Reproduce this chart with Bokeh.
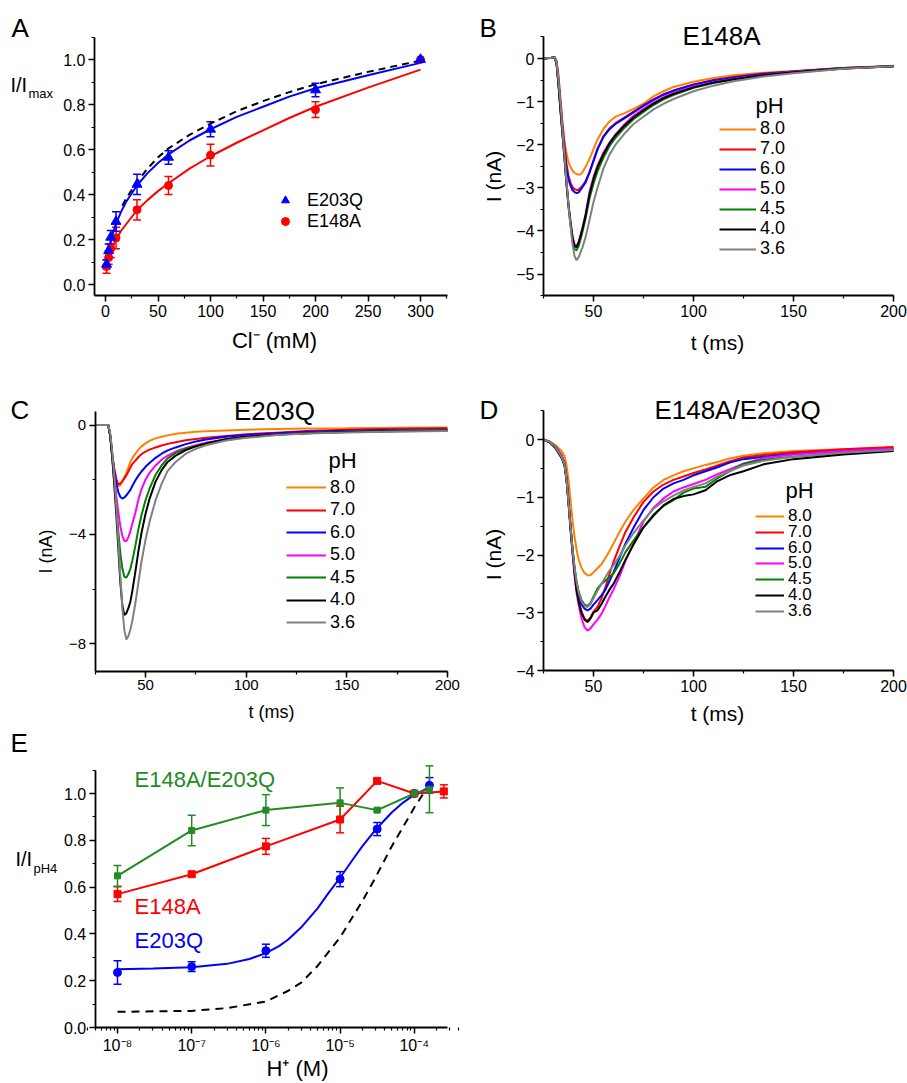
import math
from bokeh.plotting import figure
from bokeh.layouts import column, row
from bokeh.models import (ColumnDataSource, Whisker, TeeHead, Label, Legend, LegendItem,
                          SingleIntervalTicker, FixedTicker, PrintfTickFormatter,
                          CustomJSTickFormatter, Range1d)
from bokeh.embed import file_html
from bokeh.resources import INLINE

FONT = "Liberation Sans"
C_OR, C_RD, C_BL, C_MG, C_GR, C_BK, C_GY = "#FF8000", "#FF0000", "#0000FF", "#FF00FF", "#008000", "#000000", "#808080"
C_GR_E = "#238B23"

# ---------------- Panel A: Cl- dependence ----------------
cl_mM = [1, 3, 5, 10, 30, 60, 100, 200, 300]
a_e203q = [0.09, 0.15, 0.21, 0.28, 0.445, 0.565, 0.69, 0.865, 1.0]
a_e203q_err = [0.02, 0.03, 0.03, 0.043, 0.045, 0.03, 0.033, 0.03, 0.0]
a_e148a = [0.08, 0.12, 0.16, 0.207, 0.332, 0.44, 0.575, 0.777, 1.0]
a_e148a_err = [0.03, 0.03, 0.04, 0.048, 0.045, 0.04, 0.048, 0.035, 0.0]
a_fit_x = [0.5, 1, 2, 3.5, 5, 7.5, 10, 15, 20, 30, 40, 50, 60, 80, 100, 125, 150, 175, 200, 250, 300]
a_fit_e203q = [0.085, 0.1, 0.13, 0.165, 0.195, 0.235, 0.27, 0.325, 0.37, 0.44, 0.495, 0.54, 0.578,
               0.64, 0.69, 0.745, 0.79, 0.835, 0.872, 0.93, 0.985]
a_fit_e148a = [0.07, 0.09, 0.11, 0.13, 0.15, 0.175, 0.2, 0.24, 0.27, 0.33, 0.375, 0.415, 0.45,
               0.515, 0.57, 0.63, 0.685, 0.74, 0.79, 0.875, 0.955]
a_wt_x = [16, 20, 30, 40, 50, 60, 80, 100, 125, 150, 175, 200, 250, 300]
a_wt = [0.35, 0.385, 0.455, 0.515, 0.565, 0.605, 0.665, 0.715, 0.77, 0.815, 0.855, 0.89, 0.945, 0.995]

ph_labels = ["8.0", "7.0", "6.0", "5.0", "4.5", "4.0", "3.6"]
ph_colors = [C_OR, C_RD, C_BL, C_MG, C_GR, C_BK, C_GY]

# ---------------- Panel B: E148A currents ----------------
tB = [25, 29, 30.5, 31.5, 32.5, 33.5, 34.5, 35.5, 36.5, 37.5, 38.5, 39.5, 40.5, 41.5, 42.5, 43.5,
      44.5, 46, 48, 50, 52, 55, 58, 61, 65, 70, 75, 80, 85, 90, 100, 110, 120, 135, 150, 175, 200]
b_80 = [0, 0.02, 0.03, -0.1, -0.55, -1.1, -1.55, -1.93, -2.2, -2.4, -2.52, -2.6, -2.65, -2.68, -2.69,
        -2.69, -2.64, -2.52, -2.33, -2.1, -1.88, -1.63, -1.46, -1.35, -1.28, -1.17, -1.05, -0.88,
        -0.76, -0.66, -0.54, -0.45, -0.39, -0.33, -0.29, -0.22, -0.17]
b_70 = [0, 0.02, 0.03, -0.05, -0.4, -0.95, -1.5, -2.0, -2.45, -2.72, -2.88, -2.98, -3.03, -3.05, -3.05,
        -3.0, -2.95, -2.85, -2.63, -2.36, -2.09, -1.8, -1.62, -1.5, -1.38, -1.23, -1.08, -0.95,
        -0.83, -0.74, -0.6, -0.5, -0.43, -0.35, -0.3, -0.22, -0.18]
b_60 = [0, 0.02, 0.03, -0.1, -0.55, -1.1, -1.65, -2.15, -2.55, -2.8, -2.95, -3.05, -3.1, -3.12, -3.11,
        -3.05, -2.98, -2.88, -2.65, -2.38, -2.11, -1.82, -1.64, -1.52, -1.4, -1.25, -1.1, -0.96,
        -0.84, -0.75, -0.61, -0.51, -0.44, -0.36, -0.3, -0.22, -0.18]
b_50 = [0, 0.02, 0.03, -0.1, -0.6, -1.2, -1.75, -2.3, -2.88, -3.38, -3.78, -4.12, -4.31, -4.35, -4.27,
        -4.1, -3.92, -3.62, -3.1, -2.75, -2.48, -2.18, -1.95, -1.76, -1.55, -1.33, -1.17, -1.02,
        -0.9, -0.8, -0.65, -0.55, -0.47, -0.38, -0.31, -0.23, -0.18]
b_45 = [0, 0.02, 0.03, -0.1, -0.6, -1.2, -1.75, -2.32, -2.92, -3.44, -3.86, -4.22, -4.42, -4.45, -4.36,
        -4.2, -4.02, -3.72, -3.25, -2.9, -2.62, -2.3, -2.03, -1.84, -1.63, -1.41, -1.24, -1.08,
        -0.95, -0.85, -0.68, -0.57, -0.49, -0.4, -0.32, -0.23, -0.18]
b_40 = [0, 0.02, 0.03, -0.1, -0.6, -1.2, -1.75, -2.3, -2.9, -3.4, -3.8, -4.15, -4.35, -4.38, -4.28,
        -4.12, -3.95, -3.65, -3.15, -2.8, -2.52, -2.22, -1.97, -1.78, -1.58, -1.37, -1.2, -1.05,
        -0.92, -0.82, -0.67, -0.56, -0.48, -0.39, -0.32, -0.23, -0.18]
b_36 = [0, 0.02, 0.03, -0.08, -0.5, -1.05, -1.65, -2.25, -2.85, -3.4, -3.88, -4.3, -4.58, -4.68, -4.62,
        -4.5, -4.38, -4.15, -3.75, -3.33, -3.0, -2.55, -2.23, -2.0, -1.77, -1.52, -1.35, -1.18,
        -1.05, -0.94, -0.76, -0.63, -0.53, -0.42, -0.34, -0.24, -0.18]

# ---------------- Panel C: E203Q currents ----------------
tC = [25, 30, 31.5, 32.5, 33.5, 34.5, 35.5, 36.5, 37.5, 38.5, 39.5, 40.5, 41.5, 42.5, 43.5, 45, 46.5,
      48, 50, 52, 55, 58, 61, 65, 70, 75, 80, 90, 100, 115, 130, 150, 175, 200]
c_80 = [0, 0, 0, -0.4, -1.1, -1.65, -2.05, -2.25, -2.2, -2.05, -1.9, -1.75, -1.55, -1.35, -1.2, -1.05,
        -0.9, -0.78, -0.67, -0.58, -0.49, -0.43, -0.38, -0.32, -0.28, -0.25, -0.23, -0.2, -0.17,
        -0.15, -0.13, -0.12, -0.1, -0.09]
c_70 = [0, 0, 0, -0.4, -1.1, -1.6, -1.98, -2.17, -2.14, -2.05, -1.95, -1.84, -1.7, -1.55, -1.42, -1.3,
        -1.17, -1.07, -0.97, -0.9, -0.82, -0.75, -0.69, -0.63, -0.56, -0.51, -0.47, -0.4, -0.34,
        -0.28, -0.22, -0.17, -0.14, -0.12]
c_60 = [0, 0, 0, -0.4, -1.1, -1.7, -2.15, -2.45, -2.63, -2.69, -2.65, -2.57, -2.47, -2.37, -2.22,
        -2.02, -1.85, -1.7, -1.53, -1.39, -1.2, -1.05, -0.93, -0.82, -0.7, -0.6, -0.53, -0.43, -0.37,
        -0.3, -0.25, -0.21, -0.18, -0.16]
c_50 = [0, 0, 0, -0.4, -1.15, -1.9, -2.6, -3.2, -3.7, -4.05, -4.24, -4.24, -4.1, -3.88, -3.6, -3.2,
        -2.72, -2.35, -2.0, -1.75, -1.48, -1.27, -1.12, -0.97, -0.84, -0.74, -0.65, -0.52, -0.42,
        -0.34, -0.29, -0.25, -0.21, -0.19]
c_45 = [0, 0, 0, -0.4, -1.2, -2.1, -3.0, -3.9, -4.7, -5.25, -5.55, -5.58, -5.45, -5.25, -4.95, -4.4,
        -3.8, -3.3, -2.75, -2.33, -1.82, -1.48, -1.22, -1.02, -0.87, -0.77, -0.68, -0.55, -0.45,
        -0.36, -0.3, -0.25, -0.21, -0.19]
c_40 = [0, 0, 0, -0.4, -1.2, -2.2, -3.3, -4.5, -5.75, -6.6, -6.95, -6.88, -6.7, -6.45, -6.05, -5.35,
        -4.6, -3.95, -3.25, -2.7, -2.07, -1.65, -1.35, -1.12, -0.92, -0.78, -0.68, -0.52, -0.43,
        -0.35, -0.3, -0.26, -0.23, -0.21]
c_36 = [0, 0, 0, -0.3, -1.0, -1.9, -3.0, -4.2, -5.5, -6.7, -7.5, -7.84, -7.72, -7.48, -7.15, -6.5,
        -5.75, -5.0, -4.2, -3.55, -2.75, -2.15, -1.68, -1.35, -1.05, -0.87, -0.74, -0.57, -0.47,
        -0.37, -0.31, -0.27, -0.24, -0.22]

# ---------------- Panel D: E148A/E203Q currents ----------------
tD = [25, 28, 31, 34, 35.5, 36.5, 37.5, 38.5, 39.5, 40.5, 41.5, 42.5, 44, 45.5, 47, 48.5, 50, 52, 54,
      56, 58, 60, 63, 66, 70, 75, 80, 85, 90, 95, 100, 106, 112, 118, 125, 135, 150, 175, 200]
d_80 = [0, -0.03, -0.1, -0.2, -0.28, -0.45, -0.7, -1.05, -1.4, -1.68, -1.9, -2.07, -2.22, -2.31, -2.35,
        -2.35, -2.3, -2.23, -2.16, -2.05, -1.93, -1.8, -1.6, -1.42, -1.22, -1.02, -0.83, -0.7, -0.62,
        -0.55, -0.5, -0.44, -0.39, -0.33, -0.28, -0.24, -0.2, -0.17, -0.14]
d_70 = [0, -0.04, -0.12, -0.27, -0.4, -0.65, -1.05, -1.5, -1.9, -2.28, -2.58, -2.78, -2.98, -3.1, -3.14,
        -3.08, -2.98, -2.9, -2.75, -2.55, -2.33, -2.12, -1.85, -1.6, -1.35, -1.08, -0.9, -0.78, -0.7,
        -0.64, -0.58, -0.52, -0.45, -0.38, -0.31, -0.27, -0.22, -0.17, -0.13]
d_60 = [0, -0.04, -0.12, -0.28, -0.42, -0.67, -1.07, -1.5, -1.9, -2.25, -2.5, -2.68, -2.85, -2.93, -2.96,
        -2.93, -2.86, -2.78, -2.7, -2.6, -2.45, -2.3, -2.05, -1.8, -1.53, -1.22, -1.0, -0.85, -0.76,
        -0.7, -0.62, -0.55, -0.48, -0.4, -0.34, -0.3, -0.25, -0.2, -0.16]
d_50 = [0, -0.04, -0.12, -0.28, -0.42, -0.68, -1.08, -1.52, -1.95, -2.35, -2.65, -2.85, -3.1, -3.25, -3.31,
        -3.27, -3.2, -3.12, -3.02, -2.88, -2.73, -2.6, -2.37, -2.1, -1.8, -1.42, -1.18, -1.02, -0.9,
        -0.83, -0.77, -0.7, -0.6, -0.52, -0.42, -0.32, -0.26, -0.2, -0.16]
d_45 = [0, -0.04, -0.12, -0.3, -0.44, -0.68, -1.08, -1.5, -1.88, -2.2, -2.45, -2.62, -2.78, -2.86, -2.88,
        -2.83, -2.72, -2.58, -2.5, -2.44, -2.38, -2.32, -2.15, -1.95, -1.75, -1.52, -1.3, -1.15, -1.05,
        -0.92, -0.85, -0.82, -0.67, -0.55, -0.42, -0.35, -0.3, -0.24, -0.19]
d_40 = [0, -0.05, -0.15, -0.32, -0.45, -0.7, -1.1, -1.55, -1.95, -2.3, -2.6, -2.8, -3.0, -3.12, -3.16,
        -3.1, -3.0, -2.96, -2.85, -2.72, -2.6, -2.5, -2.3, -2.08, -1.82, -1.52, -1.32, -1.14, -1.03,
        -0.98, -0.95, -0.88, -0.72, -0.62, -0.55, -0.43, -0.34, -0.26, -0.2]
d_36 = [0, -0.04, -0.13, -0.3, -0.43, -0.68, -1.08, -1.5, -1.9, -2.22, -2.47, -2.64, -2.8, -2.88, -2.9,
        -2.85, -2.75, -2.62, -2.5, -2.38, -2.27, -2.18, -2.02, -1.83, -1.62, -1.4, -1.2, -1.07, -0.97,
        -0.88, -0.82, -0.76, -0.64, -0.55, -0.45, -0.37, -0.3, -0.23, -0.18]

# ---------------- Panel E: H+ dependence ----------------
e_h_blue = [1e-8, 1e-7, 1e-6, 1e-5, 3.16e-5, 1e-4, 1.6e-4]
e_e203q = [0.235, 0.26, 0.328, 0.634, 0.848, 1.0, 1.035]
e_e203q_err = [0.05, 0.021, 0.028, 0.032, 0.028, 0.0, 0.033]
e_h_red = [1e-8, 1e-7, 1e-6, 1e-5, 3.16e-5, 1e-4, 2.5e-4]
e_e148a = [0.57, 0.655, 0.774, 0.889, 1.054, 1.0, 1.009]
e_e148a_err = [0.032, 0.01, 0.034, 0.057, 0.01, 0.0, 0.028]
e_h_green = [1e-8, 1e-7, 1e-6, 1e-5, 3.16e-5, 1e-4, 1.6e-4]
e_double = [0.648, 0.842, 0.929, 0.96, 0.929, 1.0, 1.018]
e_double_err = [0.044, 0.065, 0.066, 0.064, 0.006, 0.0, 0.1]
e_fit_h = [1e-8, 3e-8, 1e-7, 3e-7, 6e-7, 1e-6, 1.5e-6, 2e-6, 3e-6, 5e-6, 7e-6, 1e-5, 1.5e-5, 2e-5,
           3e-5, 5e-5, 7e-5, 1e-4, 1.6e-4]
e_fit_e203q = [0.249, 0.252, 0.257, 0.272, 0.293, 0.318, 0.348, 0.376, 0.428, 0.51, 0.575, 0.64, 0.72,
               0.775, 0.845, 0.92, 0.96, 0.995, 1.026]
e_wt_h = [1e-8, 1e-7, 3e-7, 1e-6, 2e-6, 3e-6, 5e-6, 1e-5, 2e-5, 3e-5, 5e-5, 7e-5, 1e-4, 1.55e-4]
e_wt = [0.067, 0.071, 0.083, 0.111, 0.157, 0.192, 0.264, 0.385, 0.541, 0.641, 0.776, 0.855, 0.94, 1.033]


# ---------------- helpers ----------------
def xr_from(X0, W, px_ref, v_ref, ppu):
    return (v_ref + (X0 - px_ref) / ppu, v_ref + (X0 + W - px_ref) / ppu)


def yr_from(Y0, H, py_ref, v_ref, ppu):
    return (v_ref - (Y0 + H - py_ref) / ppu, v_ref + (py_ref - Y0) / ppu)


def make_fig(X0, Y0, W, H, xr, yr, xfix, yfix, xb, yb, xtype="linear", tick_size="16px"):
    p = figure(width=W, height=H, x_range=Range1d(*xr), y_range=Range1d(*yr), x_axis_type=xtype,
               output_backend="svg", toolbar_location=None, title=None, min_border=0)
    p.min_border_left = p.min_border_right = p.min_border_top = p.min_border_bottom = 0
    p.xgrid.visible = False
    p.ygrid.visible = False
    p.outline_line_color = None
    p.background_fill_color = "white"
    p.border_fill_color = "white"
    p.xaxis.fixed_location = xfix
    p.yaxis.fixed_location = yfix
    p.xaxis.bounds = xb
    p.yaxis.bounds = yb
    for ax in (p.xaxis[0], p.yaxis[0]):
        ax.axis_line_width = 1.8
        ax.axis_line_color = "black"
        ax.major_tick_line_width = 1.5
        ax.minor_tick_line_width = 1.2
        ax.major_tick_out = 6
        ax.major_tick_in = 0
        ax.minor_tick_out = 3
        ax.minor_tick_in = 0
        ax.major_label_text_font = FONT
        ax.major_label_text_font_size = tick_size
        ax.major_label_text_color = "black"
        ax.major_label_standoff = 3
    p._frame = (X0, Y0 + H)
    return p


def txt(p, px, py, s, size, color="black", align="left", angle=0.0):
    fx, fy = p._frame
    p.add_layout(Label(x=px - fx, y=fy - py, x_units="screen", y_units="screen", text=s,
                       text_font=FONT, text_font_size=f"{size}px", text_color=color,
                       text_align=align, text_baseline="middle", angle=angle))


def leg(p, rend, label, x_left, y_c, gw, standoff, size="18px", H=26):
    fx, fy = p._frame
    lg = Legend(items=[LegendItem(label=label, renderers=[rend])],
                location=(x_left - fx, fy - (y_c + H / 2.0)),
                glyph_width=gw, glyph_height=H, label_height=H, label_width=10,
                label_standoff=standoff, padding=0, margin=0, spacing=0,
                border_line_color=None, background_fill_alpha=0,
                label_text_font=FONT, label_text_font_size=size, label_text_color="black")
    p.add_layout(lg)


def whiskers(p, xs, ys, errs, color):
    xx = [x for x, e in zip(xs, errs) if e > 0]
    up = [y + e for y, e in zip(ys, errs) if e > 0]
    lo = [y - e for y, e in zip(ys, errs) if e > 0]
    src = ColumnDataSource(dict(x=xx, upper=up, lower=lo))
    p.add_layout(Whisker(source=src, base="x", upper="upper", lower="lower",
                         line_color=color, line_width=1.5,
                         upper_head=TeeHead(size=8, line_color=color, line_width=1.5),
                         lower_head=TeeHead(size=8, line_color=color, line_width=1.5)))


def traces_panel(p, t, series, leg_x, leg_y0, leg_dy, gw, size="18px"):
    rends = []
    for vals, col in zip(series, ph_colors):
        rends.append(p.line(t, vals, line_color=col, line_width=2))
    for i, (r, lab) in enumerate(zip(rends, ph_labels)):
        leg(p, r, lab, leg_x, leg_y0 + i * leg_dy, gw, 4, size=size)


ROT = math.pi / 2

# ================= Panel A =================
X0, Y0, W, H = 0, 0, 460, 360
pA = make_fig(X0, Y0, W, H, xr_from(X0, W, 105, 0, 1.05), yr_from(Y0, H, 284, 0, 225),
              -0.05, -10.5, (-10.5, 326), (-0.05, 1.1))
pA.xaxis.ticker = SingleIntervalTicker(interval=50, num_minor_ticks=2)
pA.yaxis.ticker = SingleIntervalTicker(interval=0.2, num_minor_ticks=2)
pA.yaxis.formatter = PrintfTickFormatter(format="%.1f")
pA.line(a_wt_x, a_wt, line_color="black", line_width=2, line_dash="7 5")
pA.line(a_fit_x, a_fit_e148a, line_color=C_RD, line_width=2)
pA.line(a_fit_x, a_fit_e203q, line_color=C_BL, line_width=2)
whiskers(pA, cl_mM, a_e148a, a_e148a_err, C_RD)
whiskers(pA, cl_mM, a_e203q, a_e203q_err, C_BL)
rA_r = pA.scatter(cl_mM, a_e148a, marker="circle", size=8, color=C_RD)
rA_b = pA.scatter(cl_mM, a_e203q, marker="triangle", size=10, color=C_BL)
leg(pA, rA_b, "E203Q", 275, 200, 20, 12)
leg(pA, rA_r, "E148A", 275, 221, 20, 12)
txt(pA, 11, 27, "A", 26)
txt(pA, 10, 84, "I/I", 20)
txt(pA, 28, 93, "max", 13)
txt(pA, 274, 340, "Cl\u207b (mM)", 22, align="center")

# ================= Panel B =================
X0, Y0, W, H = 460, 0, 447, 360
pB = make_fig(X0, Y0, W, H, xr_from(X0, W, 543, 25, 2.0), yr_from(Y0, H, 58, 0, 43.1),
              -5.5, 25, (25, 200), (-5.5, 0.5))
pB.xaxis.ticker = SingleIntervalTicker(interval=50, num_minor_ticks=2)
pB.yaxis.ticker = SingleIntervalTicker(interval=1, num_minor_ticks=2)
traces_panel(pB, tB, [b_80, b_70, b_60, b_50, b_45, b_40, b_36], 719, 128.5, 20, 37)
txt(pB, 755, 105, "pH", 22)
txt(pB, 479, 27, "B", 26)
txt(pB, 721, 35, "E148A", 26, align="center")
txt(pB, 493, 176, "I (nA)", 21, align="center", angle=ROT)
txt(pB, 717, 342, "t (ms)", 21, align="center")

# ================= Panel C =================
X0, Y0, W, H = 0, 360, 460, 365
pC = make_fig(X0, Y0, W, H, xr_from(X0, W, 145, 50, 2.013), yr_from(Y0, H, 424.5, 0, 27.35),
              -9, 25, (25, 200), (-9, 0.5), tick_size="15px")
pC.xaxis.ticker = SingleIntervalTicker(interval=50, num_minor_ticks=2)
pC.yaxis.ticker = SingleIntervalTicker(interval=4, num_minor_ticks=2)
traces_panel(pC, tC, [c_80, c_70, c_60, c_50, c_45, c_40, c_36], 286, 487, 22.5, 40)
txt(pC, 328, 460, "pH", 22)
txt(pC, 10, 409, "C", 26)
txt(pC, 274, 410, "E203Q", 26, align="center")
txt(pC, 45, 551, "I (nA)", 18, align="center", angle=ROT)
txt(pC, 271, 711, "t (ms)", 18, align="center")

# ================= Panel D =================
X0, Y0, W, H = 460, 360, 447, 365
pD = make_fig(X0, Y0, W, H, xr_from(X0, W, 543, 25, 2.0), yr_from(Y0, H, 439, 0, 57.75),
              -4, 25, (25, 200), (-4, 0.5))
pD.xaxis.ticker = SingleIntervalTicker(interval=50, num_minor_ticks=2)
pD.yaxis.ticker = SingleIntervalTicker(interval=1, num_minor_ticks=2)
traces_panel(pD, tD, [d_80, d_70, d_60, d_50, d_45, d_40, d_36], 755, 516, 15.8, 29, size="17px")
txt(pD, 785, 490, "pH", 22)
txt(pD, 479, 409, "D", 26)
txt(pD, 737, 409, "E148A/E203Q", 26, align="center")
txt(pD, 493, 554, "I (nA)", 21, align="center", angle=ROT)
txt(pD, 717, 713, "t (ms)", 21, align="center")

# ================= Panel E =================
X0, Y0, W, H = 0, 725, 460, 358
lx = xr_from(X0, W, 117, -8, 74.2)
pE = make_fig(X0, Y0, W, H, (10 ** lx[0], 10 ** lx[1]), yr_from(Y0, H, 1027, 0, 234),
              0, 10 ** -8.3, (10 ** -8.3, 10 ** -3.555), (0, 1.1), xtype="log")
pE.xaxis.ticker = FixedTicker(ticks=[1e-8, 1e-7, 1e-6, 1e-5, 1e-4],
                              minor_ticks=[k * 10.0 ** e for e in range(-9, -3) for k in range(2, 10)])
pE.xaxis.formatter = CustomJSTickFormatter(code="""
const sup = {"-":"\u207b","0":"\u2070","1":"\u00b9","2":"\u00b2","3":"\u00b3","4":"\u2074",
             "5":"\u2075","6":"\u2076","7":"\u2077","8":"\u2078","9":"\u2079"};
const e = Math.round(Math.log10(tick));
return "10" + String(e).split("").map(c => sup[c]).join("");
""")
pE.yaxis.ticker = SingleIntervalTicker(interval=0.2, num_minor_ticks=2)
pE.yaxis.formatter = PrintfTickFormatter(format="%.1f")
pE.line(e_wt_h, e_wt, line_color="black", line_width=2, line_dash="8 6")
pE.line(e_fit_h, e_fit_e203q, line_color=C_BL, line_width=2)
pE.line(e_h_red, e_e148a, line_color=C_RD, line_width=2)
pE.line(e_h_green, e_double, line_color=C_GR_E, line_width=2)
whiskers(pE, e_h_blue, e_e203q, e_e203q_err, C_BL)
whiskers(pE, e_h_red, e_e148a, e_e148a_err, C_RD)
whiskers(pE, e_h_green, e_double, e_double_err, C_GR_E)
pE.scatter(e_h_blue, e_e203q, marker="circle", size=8, color=C_BL)
pE.scatter(e_h_red, e_e148a, marker="square", size=7, color=C_RD)
pE.scatter(e_h_green, e_double, marker="square", size=6, color=C_GR_E)
txt(pE, 10, 742, "E", 26)
txt(pE, 134, 779, "E148A/E203Q", 22, color=C_GR_E)
txt(pE, 134, 906, "E148A", 22, color=C_RD)
txt(pE, 134, 940, "E203Q", 22, color=C_BL)
txt(pE, 15, 858, "I/I", 20)
txt(pE, 33, 868, "pH4", 13)
txt(pE, 297, 1068, "H\u207a (M)", 22, align="center")

layout = column(row(pA, pB), row(pC, pD), row(pE))
open("out.html", "w").write(file_html(layout, INLINE))
